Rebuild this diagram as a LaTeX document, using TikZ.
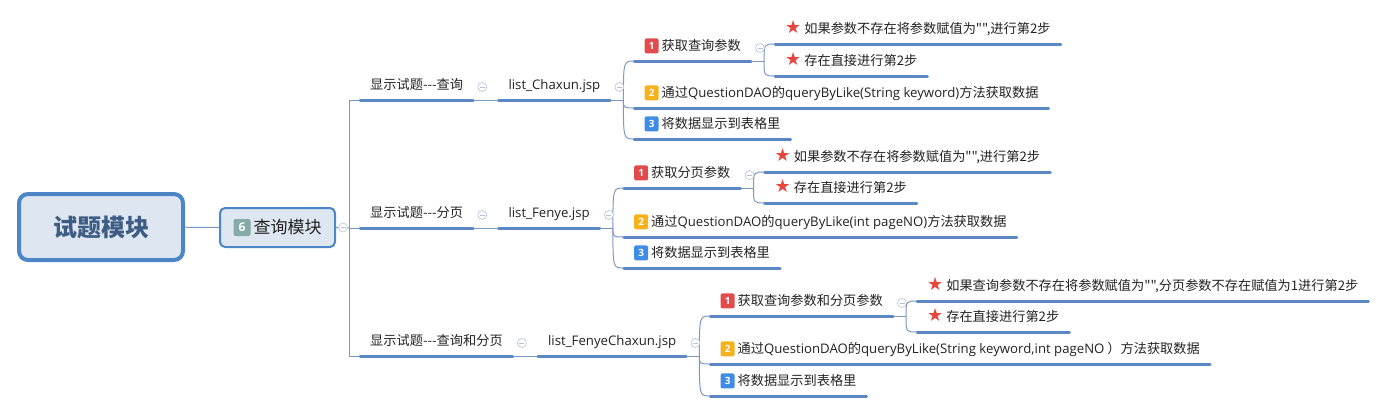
\documentclass[tikz,border=0pt]{standalone}
\usepackage{fontspec}
\setmainfont{Open Sans}
\newfontfamily\cjk{Noto Sans CJK SC}
\newfontfamily\symb{DejaVu Sans}
\usetikzlibrary{calc}

\definecolor{lineblue}{HTML}{5B88C4}
\definecolor{connblue}{HTML}{7D97C2}
\definecolor{rootfill}{HTML}{DDE6F1}
\definecolor{rootedge}{HTML}{4C86C7}
\definecolor{roottext}{HTML}{3D5D85}
\definecolor{badgered}{HTML}{E24B4B}
\definecolor{badgeyellow}{HTML}{F5B21C}
\definecolor{badgeblue}{HTML}{3F8CE6}
\definecolor{badgegray}{HTML}{84A9A7}
\definecolor{starred}{HTML}{E8453F}
\definecolor{foldgray}{HTML}{B5C1D6}
\definecolor{textgray}{HTML}{222222}

\tikzset{
	topic/.style = {anchor = south west, inner xsep = 10pt, inner ysep = 7pt, text height = 10pt, text depth = 3pt, text = textgray, font = \cjk\fontsize{13.2pt}{15pt}\selectfont, append after command = {(\tikzlastnode.south west) edge[uline] (\tikzlastnode.south east)}},
	uline/.style = {draw = lineblue, line width = 3pt, line cap = round},
	conn/.style = {draw = connblue, line width = 1pt},
	branch/.style = {to path = {.. controls (\tikztostart |- \tikztotarget) .. (\tikztotarget)}},
	fold/.style = {circle, draw = foldgray, fill = white, line width = .6pt, minimum size = 9pt, inner sep = 0pt, path picture = {\draw[foldgray, line width = .6pt] ([xshift = -2.5pt]path picture bounding box.center) -- ([xshift = 2.5pt]path picture bounding box.center);}},
	badge/.style = {rounded corners = 2pt, minimum width = 14pt, minimum height = 15pt, inner sep = 0pt, text = white, font = \rmfamily\bfseries\fontsize{10pt}{10pt}\selectfont},
	rootbox/.style = {draw = rootedge, line width = 4pt, fill = rootfill, rounded corners = 9pt, minimum width = 164pt, minimum height = 66pt, text = roottext, font = \cjk\bfseries\fontsize{24pt}{24pt}\selectfont},
	modbox/.style = {draw = rootedge, line width = 2pt, fill = rootfill, rounded corners = 5pt, minimum width = 115pt, minimum height = 39pt, text = textgray, font = \cjk\fontsize{17pt}{17pt}\selectfont},
}

\newcommand\numbadge[3][]{\tikz[baseline = {([yshift = -.37em]nb.center)}]\node[badge, fill = #2, #1] (nb) {#3};\hspace{3pt}}
\newcommand\redstar{{\symb\color{starred}\fontsize{18pt}{18pt}\selectfont ★}\hspace{3pt}}
\newcommand\lat[1]{{\rmfamily #1}}

\begin{document}
\begin{tikzpicture}[x = 1pt, y = -1pt, line join = round]
	\useasboundingbox (0,0) rectangle (1388,413);
	
	% root and module
	\node[rootbox] (root) at (101,227) {试题模块};
	\node[modbox] (mod) at (277.5,227.5) {\numbadge[minimum width = 17pt, minimum height = 17pt, font = \rmfamily\bfseries\fontsize{12pt}{12pt}\selectfont]{badgegray}{6}查询模块};
	\coordinate (trunk) at (349,228);
	
	% pages
	\node[topic] (l1a) at (360,100) {显示试题---查询};
	\node[topic] (l1b) at (360,228) {显示试题---分页};
	\node[topic] (l1c) at (360,356) {显示试题---查询和分页};
	\node[topic, xshift = 25pt] (l2a) at (l1a.south east) {\lat{list\_Chaxun.jsp}};
	\node[topic, xshift = 25pt] (l2b) at (l1b.south east) {\lat{list\_Fenye.jsp}};
	\node[topic, xshift = 25pt] (l2c) at (l1c.south east) {\lat{list\_FenyeChaxun.jsp}};
	\coordinate (j1) at ([xshift = 13pt]l2a.south east);
	\coordinate (j2) at ([xshift = 13pt]l2b.south east);
	\coordinate (j3) at ([xshift = 13pt]l2c.south east);
	
	% steps, query
	\node[topic, xshift = 11pt] (c1a) at (j1 |- 0,61) {\numbadge{badgered}{1}获取查询参数};
	\node[topic, xshift = 11pt] (c1b) at (j1 |- 0,108) {\numbadge{badgeyellow}{2}通过\lat{QuestionDAO}的\lat{queryByLike(String keyword)}方法获取数据};
	\node[topic, xshift = 11pt] (c1c) at (j1 |- 0,139) {\numbadge{badgeblue}{3}将数据显示到表格里};
	\coordinate (k1) at ([xshift = 13pt]c1a.south east);
	\node[topic, xshift = 11pt] (s1a) at (k1 |- 0,44) {\redstar 如果参数不存在将参数赋值为"",进行第2步};
	\node[topic, xshift = 11pt] (s1b) at (k1 |- 0,76) {\redstar 存在直接进行第2步};
	
	% steps, paging
	\node[topic, xshift = 11pt] (c2a) at (j2 |- 0,188) {\numbadge{badgered}{1}获取分页参数};
	\node[topic, xshift = 11pt] (c2b) at (j2 |- 0,237) {\numbadge{badgeyellow}{2}通过\lat{QuestionDAO}的\lat{queryByLike(int pageNO)}方法获取数据};
	\node[topic, xshift = 11pt] (c2c) at (j2 |- 0,268) {\numbadge{badgeblue}{3}将数据显示到表格里};
	\coordinate (k2) at ([xshift = 13pt]c2a.south east);
	\node[topic, xshift = 11pt] (s2a) at (k2 |- 0,172) {\redstar 如果参数不存在将参数赋值为"",进行第2步};
	\node[topic, xshift = 11pt] (s2b) at (k2 |- 0,203) {\redstar 存在直接进行第2步};
	
	% steps, query and paging
	\node[topic, xshift = 11pt] (c3a) at (j3 |- 0,316) {\numbadge{badgered}{1}获取查询参数和分页参数};
	\node[topic, xshift = 11pt] (c3b) at (j3 |- 0,364) {\numbadge{badgeyellow}{2}通过\lat{QuestionDAO}的\lat{queryByLike(String keyword,int pageNO}~）方法获取数据};
	\node[topic, xshift = 11pt] (c3c) at (j3 |- 0,396) {\numbadge{badgeblue}{3}将数据显示到表格里};
	\coordinate (k3) at ([xshift = 13pt]c3a.south east);
	\node[topic, xshift = 11pt] (s3a) at (k3 |- 0,301) {\redstar 如果查询参数不存在将参数赋值为"",分页参数不存在赋值为1进行第2步};
	\node[topic, xshift = 11pt] (s3b) at (k3 |- 0,332) {\redstar 存在直接进行第2步};
	
	% connectors
	\draw[conn] (root) -- (mod);
	\draw[conn] (mod.east) -- (trunk);
	\draw[conn] (trunk |- l1a.south west) -- (trunk |- l1c.south west);
	\foreach \n in {l1a,l1b,l1c}
		\draw[conn] (trunk |- \n.south west) -- (\n.south west);
	\foreach \a/\b in {l1a/l2a,l1b/l2b,l1c/l2c}
		\draw[conn] (\a.south east) -- (\b.south west);
	\foreach \p/\j/\g in {l2a/j1/1,l2b/j2/2,l2c/j3/3}{
		\draw[conn] (\p.south east) -- (\j);
		\foreach \c in {a,b,c}
			\draw[conn] (\j) to[branch] (c\g\c.south west);
		\draw[conn] (c\g a.south east) -- (k\g);
		\foreach \c in {a,b}
			\draw[conn] (k\g) to[branch] (s\g\c.south west);
	}
	
	% fold marks
	\node[fold] (f0) at ([xshift = 7pt]mod.east) {};
	\foreach \n in {l1a,l1b,l1c,l2a,l2b,l2c,c1a,c2a,c3a}
		\node[fold] (f\n) at ([xshift = 9pt, yshift = 13pt]\n.south east) {};
\end{tikzpicture}
\end{document}
